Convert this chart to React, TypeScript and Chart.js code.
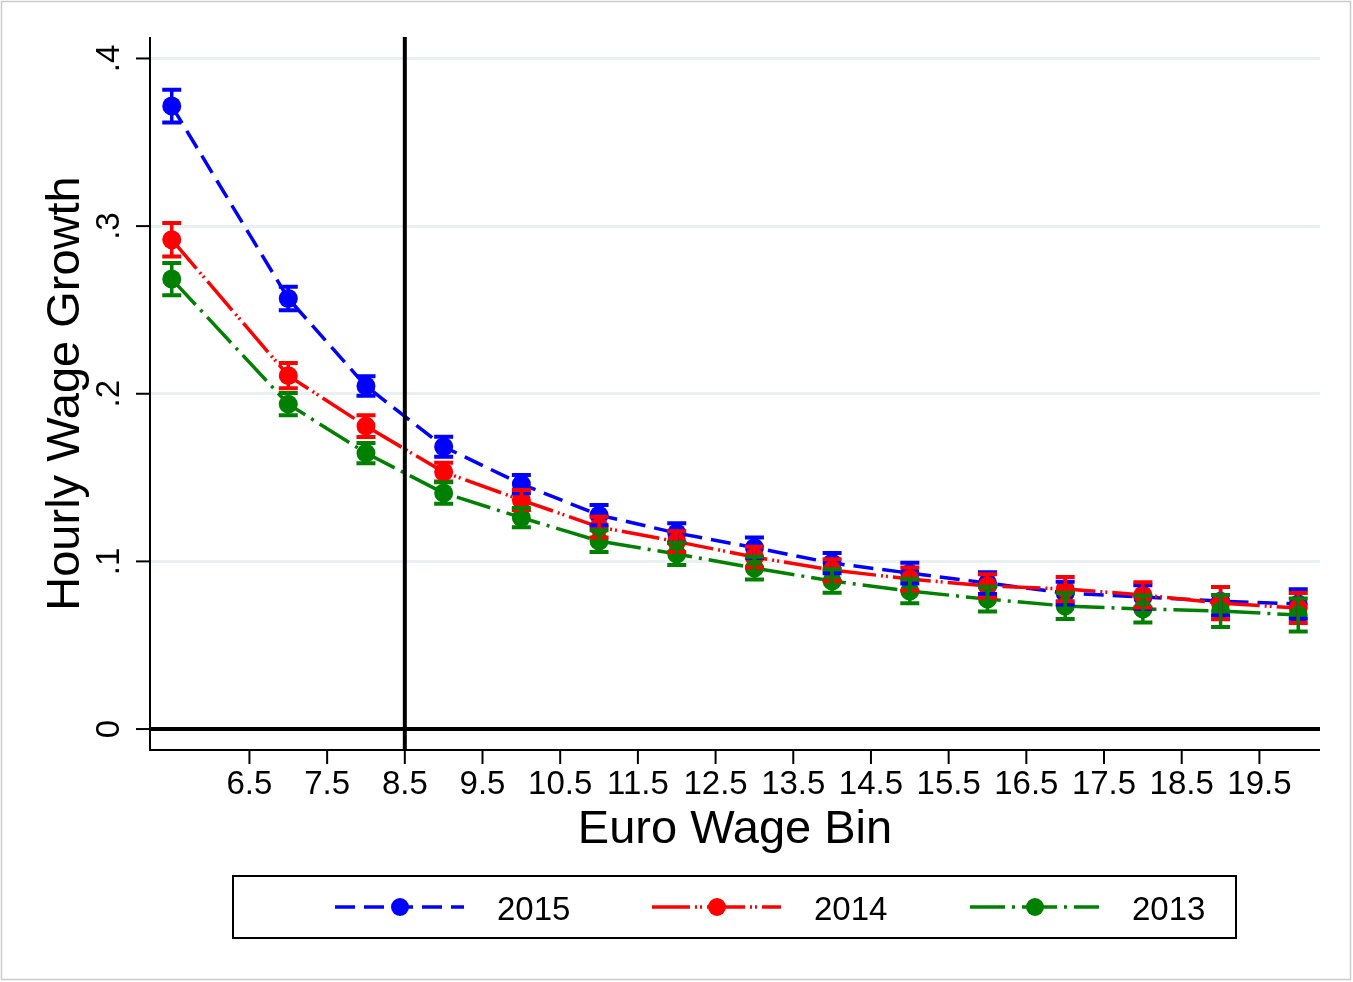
import React, { useEffect, useRef } from "react";
import { Chart, registerables } from "chart.js";

Chart.register(...registerables);

const xBins = [5.5, 7, 8, 9, 10, 11, 12, 13, 14, 15, 16, 17, 18, 19, 20];
const growth2015 = [0.3716, 0.2568, 0.2046, 0.1684, 0.1461, 0.1276, 0.1169, 0.1082, 0.099, 0.093, 0.0871, 0.0811, 0.0787, 0.0763, 0.0746];
const growth2014 = [0.2919, 0.2108, 0.1807, 0.1533, 0.1366, 0.1205, 0.1118, 0.1026, 0.0948, 0.0895, 0.0853, 0.0835, 0.08, 0.0751, 0.0722];
const growth2013 = [0.2684, 0.1938, 0.1646, 0.1408, 0.1261, 0.1121, 0.1044, 0.096, 0.0883, 0.0823, 0.0775, 0.0734, 0.0716, 0.0704, 0.068];
const err2015 = [0.0098, 0.007, 0.0058, 0.006, 0.0055, 0.006, 0.0058, 0.006, 0.006, 0.0062, 0.0065, 0.0068, 0.007, 0.0085, 0.0088];
const err2014 = [0.01, 0.0075, 0.0065, 0.0056, 0.006, 0.0062, 0.0062, 0.0062, 0.0065, 0.0068, 0.007, 0.0072, 0.0075, 0.0096, 0.009];
const err2013 = [0.0096, 0.0066, 0.006, 0.0064, 0.0057, 0.0065, 0.0066, 0.0068, 0.007, 0.0072, 0.0074, 0.0078, 0.008, 0.0095, 0.0098];
const seriesLabels = ["2015", "2014", "2013"];
const xTickValues = [6.5, 7.5, 8.5, 9.5, 10.5, 11.5, 12.5, 13.5, 14.5, 15.5, 16.5, 17.5, 18.5, 19.5];
const yTickValues = [0, 0.1, 0.2, 0.3, 0.4];
const yTickLabels = ["0", ".1", ".2", ".3", ".4"];
const minimumWageLine = 8.5;
const xTitle = "Euro Wage Bin";
const yTitle = "Hourly Wage Growth";

const COLORS = ["#0000ff", "#ff0000", "#008000"];
const DASHES = [
  [20, 9],
  [38, 5, 2, 3, 2, 5],
  [35, 7, 3, 7],
];
const FONT = '"Liberation Sans", Arial, sans-serif';

export default function App() {
  const ref = useRef<HTMLCanvasElement | null>(null);

  useEffect(() => {
    document.body.style.margin = "0";
    const canvas = ref.current;
    if (!canvas) return;
    const values = [growth2015, growth2014, growth2013];
    const errs = [err2015, err2014, err2013];

    const decor = {
      id: "decor",
      afterDatasetsDraw(chart: any) {
        const ctx = chart.ctx as CanvasRenderingContext2D;
        const xs = chart.scales.x;
        const ys = chart.scales.y;
        const area = chart.chartArea;
        ctx.save();
        // error bars
        for (let i = 0; i < 3; i++) {
          const meta = chart.getDatasetMeta(i);
          ctx.strokeStyle = COLORS[i];
          ctx.setLineDash([]);
          meta.data.forEach((pt: any, j: number) => {
            const v = values[i][j];
            const e = errs[i][j];
            const yt = ys.getPixelForValue(v + e);
            const yb = ys.getPixelForValue(v - e);
            ctx.lineWidth = 3.5;
            ctx.beginPath();
            ctx.moveTo(pt.x, yt);
            ctx.lineTo(pt.x, yb);
            ctx.stroke();
            ctx.lineWidth = 4;
            ctx.beginPath();
            ctx.moveTo(pt.x - 9.5, yt);
            ctx.lineTo(pt.x + 9.5, yt);
            ctx.moveTo(pt.x - 9.5, yb);
            ctx.lineTo(pt.x + 9.5, yb);
            ctx.stroke();
          });
        }
        ctx.strokeStyle = "#000";
        ctx.setLineDash([]);
        // zero line
        const y0 = ys.getPixelForValue(0);
        ctx.lineWidth = 4;
        ctx.beginPath();
        ctx.moveTo(area.left, y0);
        ctx.lineTo(area.right, y0);
        ctx.stroke();
        // vertical line
        const xv = xs.getPixelForValue(minimumWageLine);
        ctx.beginPath();
        ctx.moveTo(xv, area.top);
        ctx.lineTo(xv, area.bottom);
        ctx.stroke();
        // axes
        ctx.lineWidth = 2;
        ctx.beginPath();
        ctx.moveTo(area.left, area.top);
        ctx.lineTo(area.left, area.bottom);
        ctx.lineTo(area.right, area.bottom);
        ctx.stroke();
        // x ticks
        ctx.fillStyle = "#000";
        ctx.font = `33px ${FONT}`;
        ctx.textAlign = "center";
        ctx.textBaseline = "alphabetic";
        xTickValues.forEach((v) => {
          const px = xs.getPixelForValue(v);
          ctx.beginPath();
          ctx.moveTo(px, area.bottom);
          ctx.lineTo(px, area.bottom + 14);
          ctx.stroke();
          ctx.fillText(String(v), px, 794);
        });
        // y ticks
        yTickValues.forEach((v, k) => {
          const py = ys.getPixelForValue(v);
          ctx.beginPath();
          ctx.moveTo(area.left - 14, py);
          ctx.lineTo(area.left, py);
          ctx.stroke();
          ctx.save();
          ctx.translate(119, py);
          ctx.rotate(-Math.PI / 2);
          ctx.fillText(yTickLabels[k], 0, 0);
          ctx.restore();
        });
        // titles
        ctx.font = `47px ${FONT}`;
        ctx.fillText(xTitle, (area.left + area.right) / 2, 843);
        ctx.save();
        ctx.translate(79, (area.top + area.bottom) / 2);
        ctx.rotate(-Math.PI / 2);
        ctx.fillText(yTitle, 0, 0);
        ctx.restore();
        // legend
        ctx.lineWidth = 2;
        ctx.strokeRect(233, 876, 1003, 62);
        const starts = [335, 652, 970];
        ctx.font = `33px ${FONT}`;
        ctx.textAlign = "left";
        for (let i = 0; i < 3; i++) {
          const s = starts[i];
          ctx.strokeStyle = COLORS[i];
          ctx.fillStyle = COLORS[i];
          ctx.lineWidth = 3.5;
          ctx.setLineDash(DASHES[i]);
          ctx.beginPath();
          ctx.moveTo(s, 907);
          ctx.lineTo(s + 129, 907);
          ctx.stroke();
          ctx.setLineDash([]);
          ctx.beginPath();
          ctx.arc(s + 65, 907, 9, 0, Math.PI * 2);
          ctx.fill();
          ctx.fillStyle = "#000";
          ctx.fillText(seriesLabels[i], s + 162, 920);
        }
        // outer frame
        ctx.strokeStyle = "#cccccc";
        ctx.lineWidth = 1.5;
        ctx.strokeRect(1.5, 1.5, 1349, 978);
        ctx.restore();
      },
    };

    const chart = new Chart(canvas, {
      type: "line",
      data: {
        datasets: values.map((arr, i) => ({
          label: seriesLabels[i],
          data: arr.map((y, j) => ({ x: xBins[j], y })),
          borderColor: COLORS[i],
          backgroundColor: COLORS[i],
          borderWidth: 3.5,
          borderDash: DASHES[i],
          borderCapStyle: "butt" as const,
          tension: 0,
          fill: false,
          pointRadius: 9.5,
          pointBorderWidth: 0,
          pointBackgroundColor: COLORS[i],
          pointBorderColor: COLORS[i],
          order: 3 - i,
        })),
      },
      options: {
        animation: false,
        responsive: false,
        layout: { padding: { left: 150, top: 37, right: 33, bottom: 232 } },
        plugins: { legend: { display: false }, tooltip: { enabled: false } },
        scales: {
          x: {
            type: "linear",
            min: 5.22,
            max: 20.28,
            afterBuildTicks: (s: any) => {
              s.ticks = xTickValues.map((v) => ({ value: v }));
            },
            ticks: { display: false },
            grid: { display: false, drawTicks: false },
            border: { display: false },
          },
          y: {
            type: "linear",
            min: -0.0125,
            max: 0.4128,
            afterBuildTicks: (s: any) => {
              s.ticks = yTickValues.map((v) => ({ value: v }));
            },
            ticks: { display: false },
            grid: {
              drawTicks: false,
              lineWidth: 3,
              color: (c: any) => (c.tick && c.tick.value === 0 ? "rgba(0,0,0,0)" : "#e9f0f1"),
            },
            border: { display: false },
          },
        },
      },
      plugins: [decor],
    });
    return () => chart.destroy();
  }, []);

  return <canvas ref={ref} width={1353} height={982} style={{ display: "block", width: 1353, height: 982 }} />;
}
